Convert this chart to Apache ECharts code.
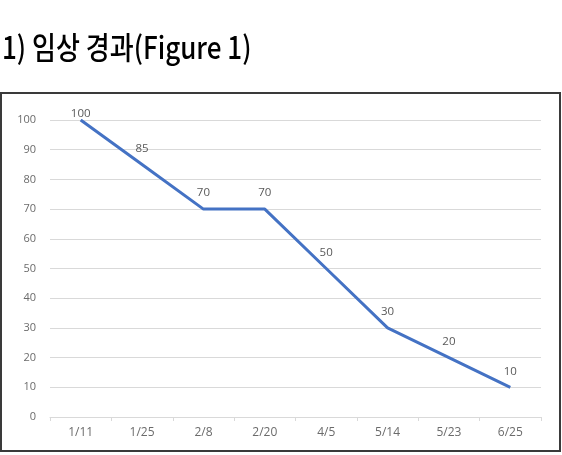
<!DOCTYPE html>
<html>
<head>
<meta charset="utf-8">
<script src="https://cdn.jsdelivr.net/npm/echarts@6/dist/echarts.min.js"></script>
<style>
  html, body { margin: 0; padding: 0; background: #fff; }
  #chart { width: 562px; height: 455px; }
</style>
</head>
<body>
<div id="chart"></div>
<script>
// data
var dates = ['1/11', '1/25', '2/8', '2/20', '4/5', '5/14', '5/23', '6/25'];
var scores = [100, 85, 70, 70, 50, 30, 20, 10];
var yTicks = { min: 0, max: 100, step: 10 };
var heading = '1) 임상 경과(Figure 1)';

var chart = echarts.init(document.getElementById('chart'));

// first label sits lower, it is squeezed against the top of the plot
var points = scores.map(function (v, i) {
  if (i === 0) return { value: v, label: { distance: 0 } };
  return v;
});

var option = {
  backgroundColor: '#fff',
  animation: false,
  textStyle: { fontFamily: 'Open Sans' },
  graphic: [{
    type: 'text',
    left: 2,
    top: 32,
    scaleX: 0.84,
    style: {
      text: heading,
      font: '500 31px "Noto Sans CJK KR"',
      fill: '#000'
    }
  }, {
    type: 'rect',
    shape: { x: 1, y: 93, width: 559, height: 358 },
    style: { fill: 'none', stroke: '#3a3a3a', lineWidth: 2 },
    z: 10
  }],
  grid: { left: 50, right: 21, top: 120, bottom: 38 },
  xAxis: {
    type: 'category',
    data: dates,
    boundaryGap: true,
    axisLine: { lineStyle: { color: '#d9d9d9' } },
    axisTick: { show: true, length: 4, lineStyle: { color: '#d9d9d9' } },
    axisLabel: { color: '#6b6b6b', fontSize: 12, margin: 10 }
  },
  yAxis: {
    type: 'value',
    min: yTicks.min,
    max: yTicks.max,
    interval: yTicks.step,
    axisLine: { show: false },
    axisTick: { show: false },
    axisLabel: { color: '#6b6b6b', fontSize: 11, margin: 14 },
    splitLine: { lineStyle: { color: '#d9d9d9' } }
  },
  series: [{
    type: 'line',
    data: points,
    showSymbol: true,
    symbol: 'circle',
    symbolSize: 0,
    lineStyle: { color: '#4472c4', width: 3 },
    itemStyle: { color: '#4472c4' },
    label: {
      show: true,
      position: 'top',
      distance: 10,
      color: '#595959',
      fontSize: 11.5
    }
  }]
};

chart.setOption(option);
</script>
</body>
</html>
